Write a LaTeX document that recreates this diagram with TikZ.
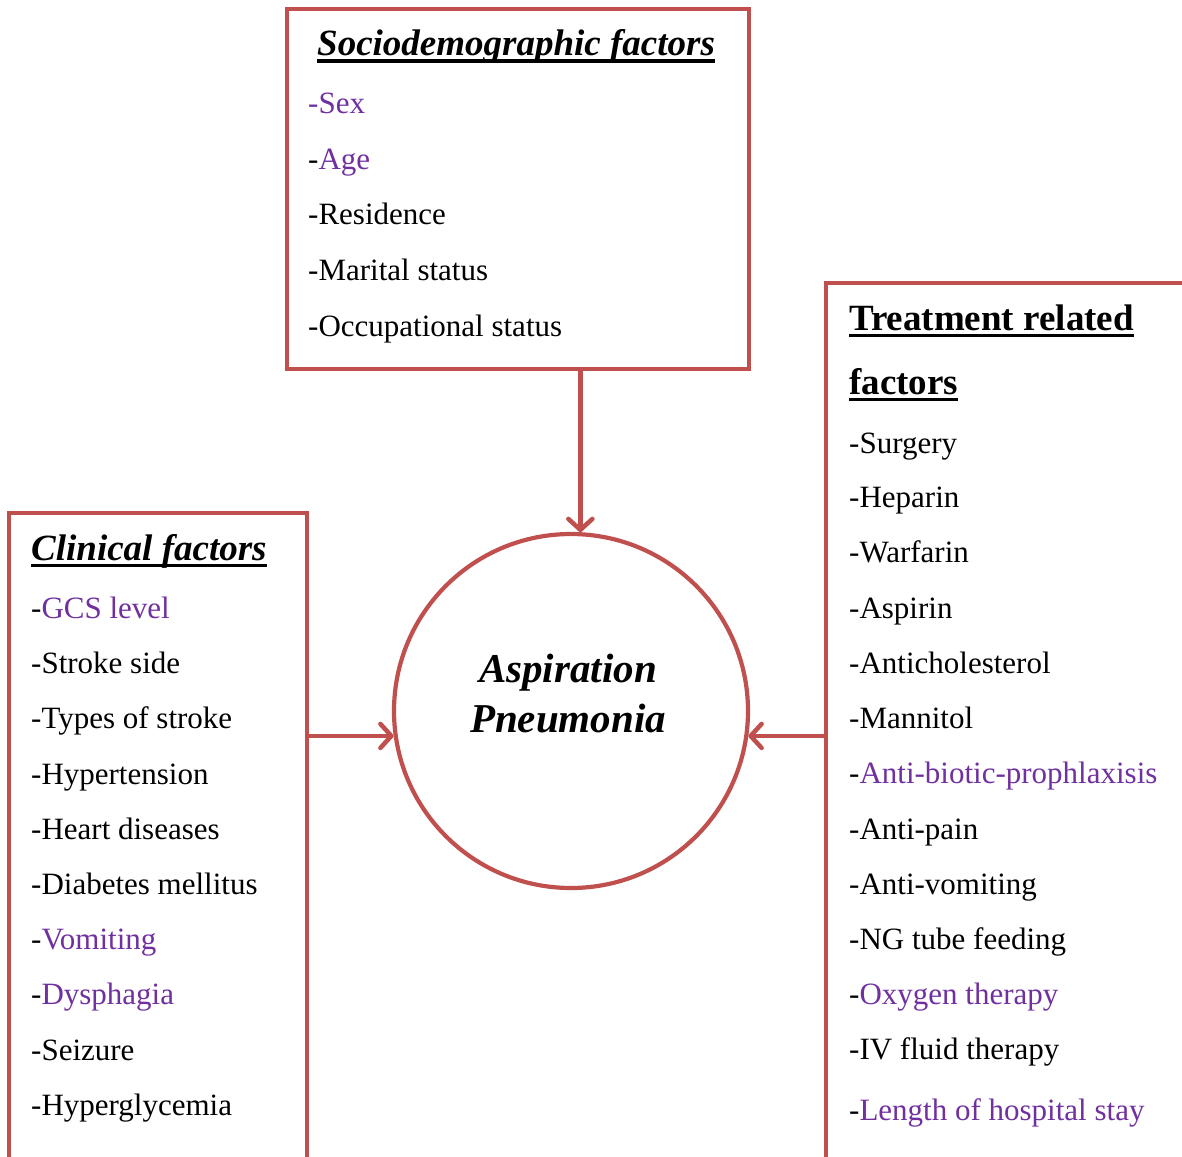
\documentclass[tikz,border=0pt]{standalone}
\usepackage{fontspec}
\setmainfont{Liberation Serif}
\usepackage{tikz}
\usetikzlibrary{arrows.meta}
\definecolor{boxred}{HTML}{C0504D}
\definecolor{itempurple}{HTML}{7030A0}
\tikzstyle{fbox}=[draw=boxred,line width=4pt,inner sep=0pt]
\tikzstyle{item}=[anchor=base west,inner sep=0pt,font=\fontsize{31}{37}\selectfont]
\tikzstyle{head}=[anchor=base west,inner sep=0pt,font=\fontsize{37}{44}\selectfont\bfseries]
\tikzstyle{to}=[-{Straight Barb[length=11pt,width=24pt,line cap=round,line join=round]},draw=boxred,line width=4.5pt,line cap=round]
\newsavebox{\headbox}
\newcommand{\ulhead}[1]{\sbox{\headbox}{#1}\rlap{\rule[-7pt]{\wd\headbox}{3.5pt}}\usebox{\headbox}}
\newcommand{\pu}[1]{\textcolor{itempurple}{#1}}

\begin{document}
\begin{tikzpicture}[x=1pt,y=-1pt]
        \useasboundingbox (0,0) rectangle (1182,1156);
        % boxes
        \node[fbox,minimum width=462pt,minimum height=360pt] (socio) at (518,189) {};
        \node[fbox,minimum width=298pt,minimum height=680pt] (clin) at (158,853) {};
        \node[fbox,minimum width=380pt,minimum height=920pt] (treat) at (1016,743) {};
        \node[fbox,circle,line width=4.2pt,minimum size=354pt] (pneu) at (571,711) {};
        % titles
        \node[head] (sociohead) at (317,56) {\itshape\ulhead{Sociodemographic factors}};
        \node[head] (clinhead) at (31,560) {\itshape\ulhead{Clinical factors}};
        \node[head] (treathead) at (849,330) {\ulhead{Treatment related}};
        \node[head] (treathead2) at (849,394) {\ulhead{factors}};
        \node[anchor=base,inner sep=0pt,font=\fontsize{41}{48}\selectfont\bfseries\itshape] (asp) at (568,682) {Aspiration};
        \node[anchor=base,inner sep=0pt,font=\fontsize{41}{48}\selectfont\bfseries\itshape] (pnm) at (568,732) {Pneumonia};
        % items
        \foreach \y/\t [count=\i] in {113/\pu{-Sex},169/-\pu{Age},224/-Residence,
            280/-Marital status,336/-Occupational status}
            \node[item] (socio\i) at (308,\y) {\t};
        \foreach \y/\t [count=\i] in {618/-\pu{GCS level},673/-Stroke side,728/-Types of stroke,
            784/-Hypertension,839/-Heart diseases,894/-Diabetes mellitus,949/-\pu{Vomiting},
            1004/-\pu{Dysphagia},1060/-Seizure,1115/-Hyperglycemia}
            \node[item] (clin\i) at (31,\y) {\t};
        \foreach \y/\t [count=\i] in {453/-Surgery,507/-Heparin,562/-Warfarin,618/-Aspirin,
            673/-Anticholesterol,728/-Mannitol,783/-\pu{Anti-biotic-prophlaxisis},839/-Anti-pain,
            894/-Anti-vomiting,949/-NG tube feeding,1004/-\pu{Oxygen therapy},1059/-IV fluid therapy,
            1120/-\pu{Length of hospital stay}}
            \node[item] (treat\i) at (849,\y) {\t};
        % arrows
        \draw[to] (socio.south -| pneu.87) -- (pneu.87);
        \draw[to] (clin.east |- pneu.188) -- (pneu.188);
        \draw[to] (treat.west |- pneu.-8) -- (pneu.-8);
    \end{tikzpicture}
\end{document}
